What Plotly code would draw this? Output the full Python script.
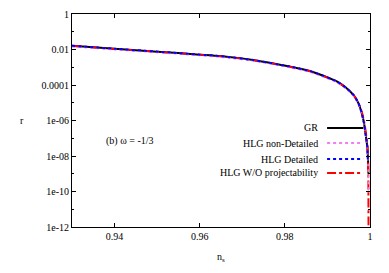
import plotly.graph_objects as go

# ---- data ----
ns_gr = [0.93, 0.94, 0.95, 0.96, 0.9647, 0.9725, 0.9805, 0.9859, 0.9890, 0.9922, 0.9945, 0.9961,
         0.99725, 0.99805, 0.99859, 0.99906, 0.99936, 0.99955, 0.99962]
r_gr = [1.62e-2, 1.10e-2, 7.59e-3, 5.13e-3, 4.27e-3, 2.57e-3, 1.17e-3, 6.1e-4, 3.3e-4, 1.58e-4,
        6.6e-5, 2.75e-5, 9.8e-6, 2.63e-6, 7.2e-7, 1.17e-7, 3.3e-8, 5.0e-9, 1.0e-9]

ns_nd = [0.93, 0.94, 0.95, 0.96, 0.9647, 0.9725, 0.9805, 0.9859, 0.9890, 0.9922, 0.9945, 0.9961,
         0.99725, 0.99805, 0.99859, 0.99906, 0.99936, 0.99955, 0.99965]
r_nd = [1.45e-2, 9.8e-3, 6.8e-3, 4.6e-3, 3.8e-3, 2.3e-3, 1.04e-3, 5.4e-4, 2.9e-4, 1.4e-4,
        5.8e-5, 2.4e-5, 8.5e-6, 2.3e-6, 6.2e-7, 1.0e-7, 2.8e-8, 3.0e-9, 1.0e-10]

ns_d = [0.93, 0.94, 0.95, 0.96, 0.9647, 0.9725, 0.9805, 0.9859, 0.9890, 0.9922, 0.9945, 0.9961,
        0.99725, 0.99805, 0.99859, 0.99906, 0.99936, 0.9995]
r_d = [1.62e-2, 1.10e-2, 7.59e-3, 5.13e-3, 4.27e-3, 2.57e-3, 1.17e-3, 6.1e-4, 3.3e-4, 1.58e-4,
       6.6e-5, 2.75e-5, 9.8e-6, 2.63e-6, 7.2e-7, 1.17e-7, 3.3e-8, 6.3e-9]

ns_wo = [0.93, 0.94, 0.95, 0.96, 0.9647, 0.9725, 0.9805, 0.9859, 0.9890, 0.9922, 0.9945, 0.9961,
         0.99725, 0.9981, 0.99865, 0.99915, 0.99945, 0.9996, 0.99966]
r_wo = [1.60e-2, 1.08e-2, 7.5e-3, 5.05e-3, 4.2e-3, 2.53e-3, 1.15e-3, 6.0e-4, 3.25e-4, 1.56e-4,
        6.5e-5, 2.75e-5, 1.0e-5, 2.9e-6, 8.0e-7, 1.26e-7, 2.5e-8, 1.0e-9, 1.0e-13]

x_ticks = [0.94, 0.96, 0.98, 1.0]
x_ticktext = ["0.94", "0.96", "0.98", "1"]
y_ticks = [1, 1e-2, 1e-4, 1e-6, 1e-8, 1e-10, 1e-12]
y_ticktext = ["1", "0.01", "0.0001", "1e-06", "1e-08", "1e-10", "1e-12"]
y_minor = [1e-1, 1e-3, 1e-5, 1e-7, 1e-9, 1e-11]

names = ["GR", "HLG non-Detailed", "HLG Detailed", "HLG W/O projectability"]
colors = ["#000000", "#f080f0", "#0000ff", "#ff0000"]
dashes = ["solid", "dot", "dot", "dashdot"]
widths = [2, 1.5, 2, 2]

FONT = "Liberation Serif"

fig = go.Figure()
series = [(ns_gr, r_gr, 0), (ns_wo, r_wo, 3), (ns_nd, r_nd, 1), (ns_d, r_d, 2)]
for xs, ys, i in series:
    fig.add_trace(go.Scatter(x=xs, y=ys, mode="lines", name=names[i],
                             line=dict(color=colors[i], width=widths[i], dash=dashes[i],
                                       shape="spline", smoothing=0.5),
                             showlegend=False))

# legend built from annotations + sample lines
leg_y = [0.465, 0.394, 0.319, 0.254]
for i, nm in enumerate(names):
    fig.add_annotation(x=0.832, y=leg_y[i], xref="paper", yref="paper", text=nm,
                       showarrow=False, xanchor="right", yanchor="middle",
                       font=dict(family=FONT, size=10, color="black"))
    fig.add_shape(type="line", xref="paper", yref="paper", x0=0.856, x1=0.977,
                  y0=leg_y[i], y1=leg_y[i],
                  line=dict(color=colors[i], width=2, dash=dashes[i]))

fig.add_annotation(x=0.107, y=0.404, xref="paper", yref="paper", text="(b) ω = -1/3",
                   showarrow=False, xanchor="left", yanchor="middle",
                   font=dict(family=FONT, size=10, color="black"))
fig.add_annotation(x=-0.168, y=0.502, xref="paper", yref="paper", text="r",
                   showarrow=False, xanchor="center", yanchor="middle",
                   font=dict(family=FONT, size=10, color="black"))
fig.add_annotation(x=0.5, y=-0.141, xref="paper", yref="paper", text="n<sub>s</sub>",
                   showarrow=False, xanchor="center", yanchor="middle",
                   font=dict(family=FONT, size=10, color="black"))

fig.update_xaxes(range=[0.93, 1.0], tickvals=x_ticks, ticktext=x_ticktext,
                 ticks="inside", ticklen=4, tickcolor="black", mirror="ticks",
                 showline=True, linecolor="black", linewidth=1, showgrid=False,
                 zeroline=False, tickfont=dict(family=FONT, size=10, color="black"))
fig.update_yaxes(type="log", range=[-12, 0], tickvals=y_ticks, ticktext=y_ticktext,
                 ticks="inside", ticklen=4, tickcolor="black", mirror="ticks",
                 showline=True, linecolor="black", linewidth=1, showgrid=False,
                 zeroline=False, tickfont=dict(family=FONT, size=10, color="black"),
                 minor=dict(tickvals=y_minor, ticks="inside", ticklen=2, tickcolor="black", showgrid=False))

# page body has an 8px default margin, so offset plot-area margins accordingly
fig.update_layout(width=389, height=273, margin=dict(l=64, r=27, t=6, b=54, autoexpand=False),
                  plot_bgcolor="white", paper_bgcolor="white", showlegend=False)

fig.write_html("out.html")
